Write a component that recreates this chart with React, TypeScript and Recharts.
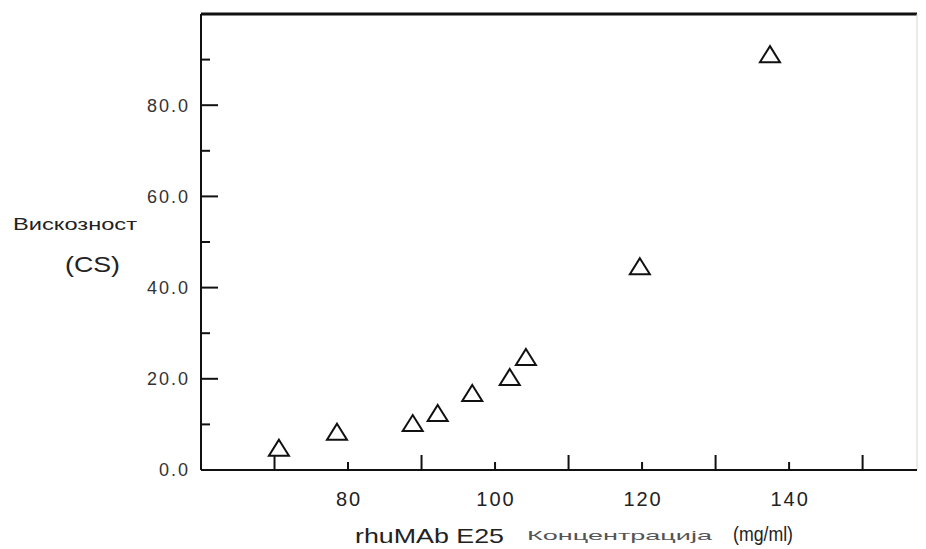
import React from 'react';
import { ScatterChart, Scatter, XAxis, YAxis, ReferenceLine } from 'recharts';

// concentration (mg/ml) and viscosity (cS)
const concentration = [70.6, 78.5, 88.8, 92.2, 96.9, 102.0, 104.2, 119.7, 137.4];
const viscosity = [4.9, 8.4, 10.3, 12.5, 16.9, 20.4, 24.8, 44.7, 91.2];

const xTicks = [70, 80, 90, 100, 110, 120, 130, 140, 150];
const xLabelled = [80, 100, 120, 140];
const yTicks = [0, 10, 20, 30, 40, 50, 60, 70, 80, 90];
const yLabelled = [0, 20, 40, 60, 80];

const data = concentration.map((c, i) => ({ c, v: viscosity[i] }));

const FONT = '"Liberation Sans", Arial, sans-serif';

const Triangle = (props: any) => {
  const { cx, cy } = props;
  if (cx == null || cy == null) return null;
  const w = 10;
  const h = 8;
  return (
    <path
      d={`M${cx},${cy - h} L${cx + w},${cy + h} L${cx - w},${cy + h} Z`}
      fill="#fff"
      stroke="#111"
      strokeWidth={2}
      strokeLinejoin="miter"
    />
  );
};

const XTick = (props: any) => {
  const { x, y, payload } = props;
  const v = payload.value;
  const major = xLabelled.includes(v);
  return (
    <g>
      <line x1={x} x2={x} y1={y} y2={y - (major ? 8 : 15)} stroke="#111" strokeWidth={2} />
      {major && (
        <text x={x + 1} y={y + 36} textAnchor="middle" fontSize={20} letterSpacing={2} fill="#222" fontFamily={FONT}>
          {v}
        </text>
      )}
    </g>
  );
};

const YTick = (props: any) => {
  const { x, y, payload } = props;
  const v = payload.value;
  const major = yLabelled.includes(v);
  return (
    <g>
      <line x1={x} x2={x + (major ? 17 : 9)} y1={y} y2={y} stroke="#111" strokeWidth={2} />
      {major && (
        <text x={x - 11} y={y} dy="0.35em" textAnchor="end" fontSize={18} letterSpacing={2} fill="#333" fontFamily={FONT}>
          {v.toFixed(1)}
        </text>
      )}
    </g>
  );
};

export default function App() {
  return (
    <div style={{ position: 'absolute', left: 0, top: 0, width: 926, height: 549, background: '#fff' }}>
      <ScatterChart width={926} height={549} margin={{ top: 14, right: 9, bottom: 39, left: 141 }}>
        <XAxis
          type="number"
          dataKey="c"
          domain={[60, 157.4]}
          ticks={xTicks}
          interval={0}
          allowDataOverflow
          height={40}
          tickSize={0}
          tickMargin={0}
          tickLine={false}
          axisLine={{ stroke: '#111', strokeWidth: 2 }}
          tick={<XTick />}
        />
        <YAxis
          type="number"
          dataKey="v"
          domain={[0, 100]}
          ticks={yTicks}
          interval={0}
          allowDataOverflow
          width={60}
          tickSize={0}
          tickMargin={0}
          tickLine={false}
          axisLine={{ stroke: '#111', strokeWidth: 2 }}
          tick={<YTick />}
        />
        <ReferenceLine y={100} stroke="#111" strokeWidth={3} />
        <ReferenceLine x={157.4} stroke="#d8d8d8" strokeWidth={1} />
        <Scatter data={data} shape={<Triangle />} isAnimationActive={false} />
      </ScatterChart>
      <svg width={926} height={549} style={{ position: 'absolute', left: 0, top: 0, pointerEvents: 'none' }}>
        <g fontFamily={FONT} fill="#222">
          <text x={13} y={230} fontSize={17} textLength={124} lengthAdjust="spacingAndGlyphs">
            Вискозност
          </text>
          <text x={65} y={272} fontSize={22} textLength={55} lengthAdjust="spacingAndGlyphs">
            (CS)
          </text>
          <text x={355} y={543} fontSize={21} textLength={149} lengthAdjust="spacingAndGlyphs">
            rhuMAb E25
          </text>
          <text x={527} y={540} fontSize={13} textLength={185} lengthAdjust="spacingAndGlyphs" fill="#555">
            Концентрација
          </text>
          <text x={733} y={541} fontSize={20} textLength={60} lengthAdjust="spacingAndGlyphs">
            (mg/ml)
          </text>
        </g>
      </svg>
    </div>
  );
}
